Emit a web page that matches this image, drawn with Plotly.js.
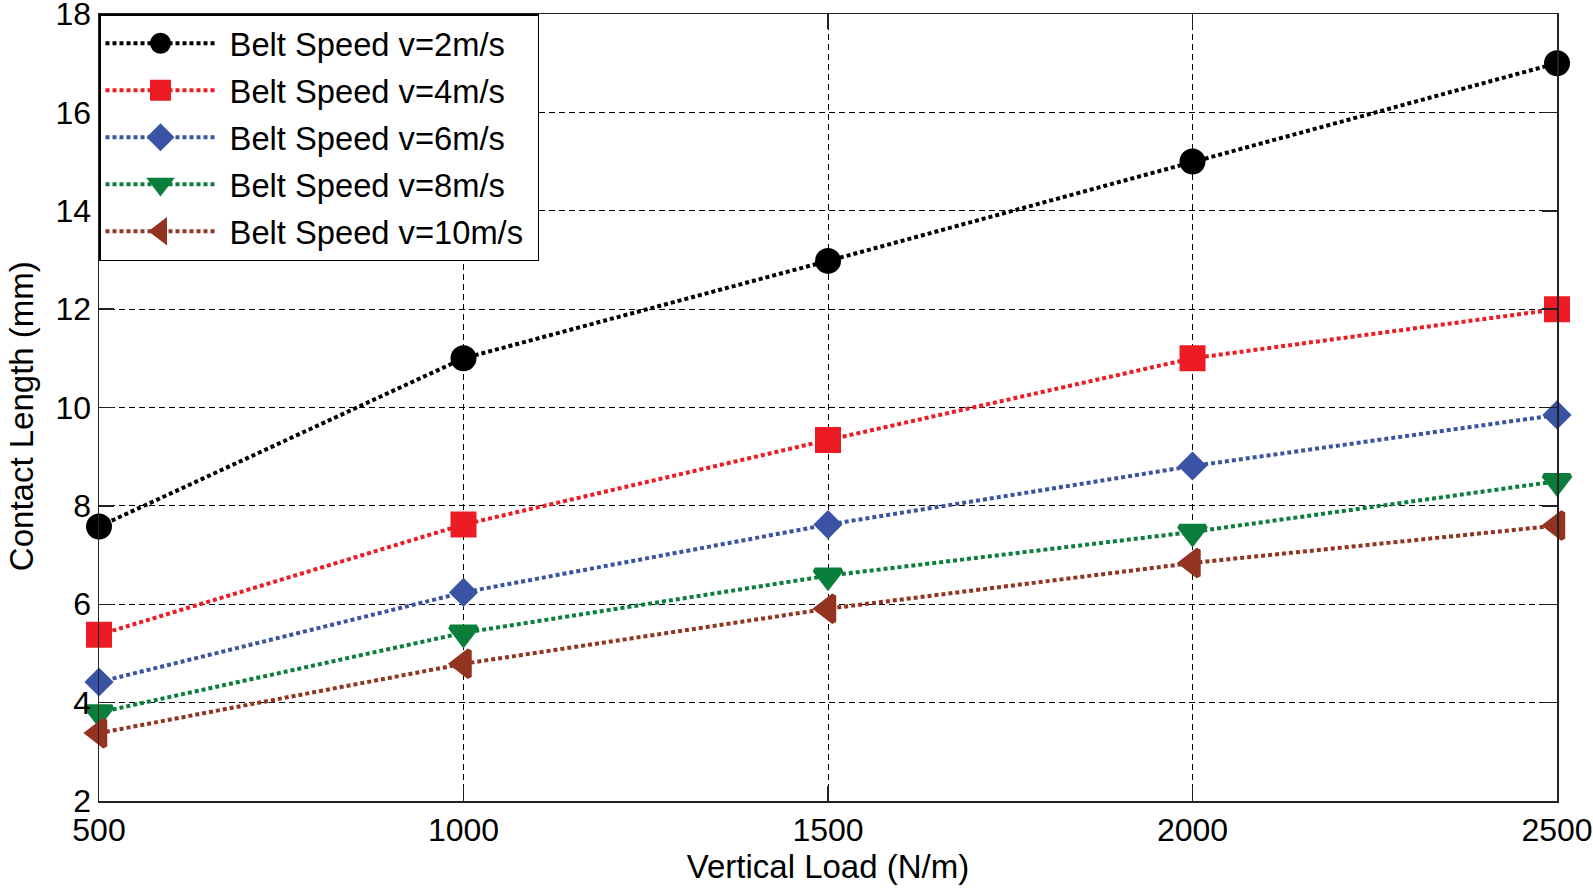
<!DOCTYPE html>
<html>
<head>
<meta charset="utf-8">
<script src="https://cdn.plot.ly/plotly-3.0.1.min.js"></script>
<style>html,body{margin:0;padding:0;background:#fff;}#chart{width:1593px;height:888px;}</style>
</head>
<body>
<div id="chart"></div>
<script>
var verticalLoad = [500, 1000, 1500, 2000, 2500];
var seriesNames = ['Belt Speed v=2m/s', 'Belt Speed v=4m/s', 'Belt Speed v=6m/s', 'Belt Speed v=8m/s', 'Belt Speed v=10m/s'];
var speed2 = [7.58, 11.0, 12.98, 15.0, 17.0];
var speed4 = [5.38, 7.62, 9.34, 11.0, 12.0];
var speed6 = [4.42, 6.24, 7.62, 8.81, 9.85];
var speed8 = [3.8, 5.42, 6.58, 7.47, 8.5];
var speed10 = [3.38, 4.79, 5.91, 6.84, 7.6];
var xTicks = [500, 1000, 1500, 2000, 2500];
var yTicks = [2, 4, 6, 8, 10, 12, 14, 16, 18];
var xTitle = 'Vertical Load (N/m)';
var yTitle = 'Contact Length (mm)';

var colors = ['#000000', '#ED1C24', '#3A53A4', '#0B7E3B', '#933420'];
var symbols = ['circle', 'square', 'diamond', 'triangle-down', 'triangle-left'];
var sizes = [21, 21, 17, 23, 23];
var values = [speed2, speed4, speed6, speed8, speed10];

var traces = values.map(function (v, i) {
  return {
    x: verticalLoad, y: v, name: '\u00a0' + seriesNames[i] + '\u00a0', type: 'scatter', mode: 'lines+markers',
    legendgroup: 'g' + i,
    line: {color: colors[i], width: 4, dash: '4px,3px'},
    marker: {symbol: symbols[i], size: sizes[i], color: colors[i], line: {color: colors[i], width: 5}},
    cliponaxis: false
  };
});

var font = 'Liberation Sans, Arial, sans-serif';
var layout = {
  width: 1593, height: 888,
  margin: {l: 99, r: 36, t: 14, b: 87},
  paper_bgcolor: '#fff', plot_bgcolor: '#fff',
  font: {family: font, color: '#000', size: 31},
  showlegend: true,
  legend: {
    x: 0, y: 1, xanchor: 'left', yanchor: 'top',
    bgcolor: '#fff', bordercolor: '#000', borderwidth: 1.5,
    font: {family: font, size: 32.7, color: '#000'},
    itemwidth: 110, traceorder: 'grouped', tracegroupgap: 1.5
  },
  xaxis: {
    range: [500, 2500], tickvals: xTicks, ticktext: xTicks.map(String),
    showgrid: true, gridcolor: '#000', gridwidth: 1, griddash: '6px,4px',
    zeroline: false, showline: true, linecolor: '#222', linewidth: 1.5, mirror: 'allticks',
    ticks: 'inside', ticklen: 15, tickcolor: '#222', tickwidth: 1.5, ticklabeloverflow: 'allow',
    tickfont: {family: font, size: 32, color: '#000'},
    title: {text: xTitle, font: {family: font, size: 33, color: '#000'}, standoff: 2}
  },
  yaxis: {
    range: [2, 18], tickvals: yTicks, ticktext: yTicks.map(String),
    showgrid: true, gridcolor: '#000', gridwidth: 1, griddash: '6px,4px',
    zeroline: false, showline: true, linecolor: '#222', linewidth: 1.5, mirror: 'allticks',
    ticks: 'inside', ticklen: 15, tickcolor: '#222', tickwidth: 1.5, ticklabeloverflow: 'allow',
    tickfont: {family: font, size: 32, color: '#000'}
  },
  annotations: [{
    text: yTitle, xref: 'paper', yref: 'paper', x: -0.0535, y: 0.489,
    xanchor: 'center', yanchor: 'middle', textangle: -90, showarrow: false,
    font: {family: font, size: 33, color: '#000'}
  }]
};

Plotly.newPlot('chart', traces, layout, {displayModeBar: false, staticPlot: true});
</script>
</body>
</html>
